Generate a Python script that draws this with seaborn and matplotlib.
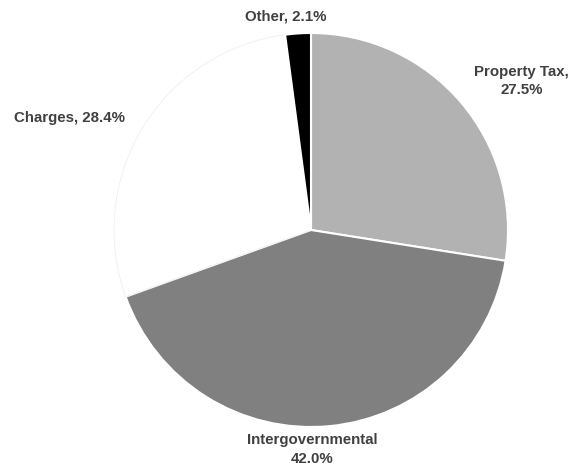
import matplotlib
matplotlib.use("Agg")
import matplotlib.pyplot as plt
import seaborn as sns

# Revenue sources and their shares (percent)
categories = ["Property Tax", "Intergovernmental", "Charges", "Other"]
shares = [27.5, 42.0, 28.4, 2.1]
label_texts = ["Property Tax,\n27.5%", "Intergovernmental\n42.0%", "Charges, 28.4%", "Other, 2.1%"]
slice_colors = ["#b2b2b2", "#808080", "#ffffff", "#000000"]

sns.set_theme(style="white")
plt.rcParams["font.family"] = ["Liberation Sans", "DejaVu Sans"]

fig = plt.figure(figsize=(5.76, 4.68), dpi=100)
ax = fig.add_axes([0, 0, 1, 1])

wedges, _ = ax.pie(
    shares,
    colors=slice_colors,
    startangle=90,
    counterclock=False,
    radius=1.0,
    wedgeprops=dict(edgecolor="white", linewidth=1.5),
)
# faint outline so the white slice stays visible on the white page
wedges[2].set_edgecolor("#efefef")
wedges[2].set_linewidth(0.6)

# label anchor points (in pie radius units)
label_pos = [(1.07, 0.755), (0.005, -1.115), (-1.225, 0.567), (-0.13, 1.085)]
for txt, (x, y) in zip(label_texts, label_pos):
    ax.text(x, y, txt, ha="center", va="center", fontsize=10.8,
            fontweight="bold", color="#404040", linespacing=1.4)

ax.set_xlim(-311 / 197, (576 - 311) / 197)
ax.set_ylim(-(468 - 230) / 197, 230 / 197)
ax.set_aspect("auto")
ax.axis("off")

fig.savefig("out.png", dpi=100, facecolor="white")
